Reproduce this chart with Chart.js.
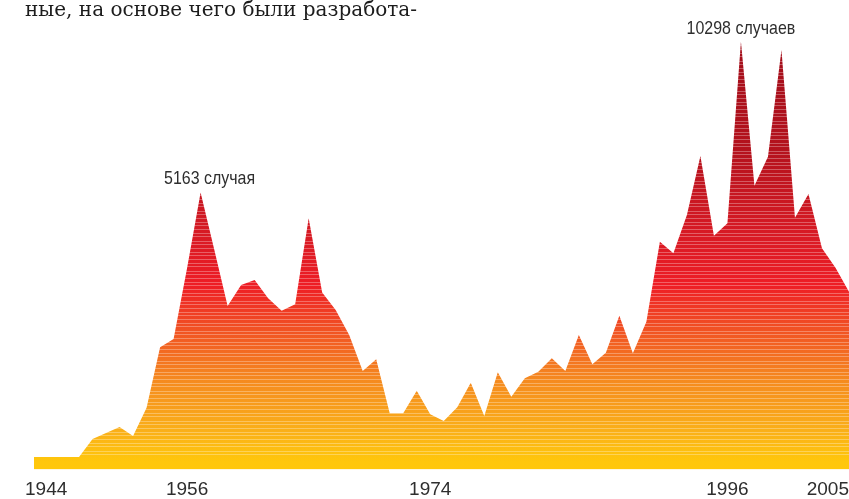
<!DOCTYPE html>
<html lang="ru">
<head>
<meta charset="utf-8">
<title>Случаи по годам, 1944–2005</title>
<script src="https://cdn.jsdelivr.net/npm/chart.js@4.4.1/dist/chart.umd.min.js"></script>
<style>
  html, body { margin: 0; padding: 0; background: #ffffff; overflow: hidden; }
  #wrap { width: 849px; height: 499px; }
  canvas { display: block; }
</style>
</head>
<body>
<div id="wrap"><canvas id="chart" width="849" height="499"></canvas></div>
<script>
// Years on the horizontal axis
const years = [
  1944, 1945, 1946, 1947, 1948, 1949, 1950, 1951, 1952, 1953,
  1954, 1955, 1956, 1957, 1958, 1959, 1960, 1961, 1962, 1963,
  1964, 1965, 1966, 1967, 1968, 1969, 1970, 1971, 1972, 1973,
  1974, 1975, 1976, 1977, 1978, 1979, 1980, 1981, 1982, 1983,
  1984, 1985, 1986, 1987, 1988, 1989, 1990, 1991, 1992, 1993,
  1994, 1995, 1996, 1997, 1998, 1999, 2000, 2001, 2002, 2003,
  2004, 2005
];

// Number of cases per year
const cases = [
  1540, 1540, 1540, 1540, 1540, 1672, 1718, 1766, 1695, 1929,
  2542, 2641, 3654, 5163, 3985, 3071, 3380, 3459, 3181, 3006,
  3095, 4586, 3269, 3015, 2689, 2281, 2407, 1880, 1880, 2085,
  1871, 1815, 1932, 2163, 1857, 2268, 2028, 2206, 2274, 2418,
  2281, 2689, 2352, 2480, 2938, 2474, 2858, 4121, 3908, 4656,
  6098, 4235, 4483, 10298, 5324, 6078, 9901, 4599, 5125, 3998,
  3659, 3279
];

// Years that get a label under the axis
const tickYears = [1944, 1956, 1974, 1996, 2005];

// Peaks called out above the area
const calloutYears = [1957, 1997];
const calloutTexts = ['5163 случая', '10298 случаев'];

// Cut-off line of body text above the chart
const headingText = 'ные, на основе чего были разработа-';

const sansFont = "'Liberation Sans Narrow', 'Liberation Sans', Arial, sans-serif";

// Vertical colour ramp of the area (canvas y in px, colour)
const rampStops = [
  [40,  '#a20d1a'],
  [150, '#b4121d'],
  [235, '#d81a24'],
  [285, '#ee1d25'],
  [330, '#f15223'],
  [380, '#f58a1f'],
  [430, '#faaf19'],
  [462, '#ffc70b'],
  [499, '#ffc80a']
];

// Builds the striped, graded fill as a pattern anchored to the canvas
let areaPattern = null;
function stripedFill(chart) {
  if (areaPattern) return areaPattern;
  const h = chart.height;
  const c = document.createElement('canvas');
  c.width = 8;
  c.height = h;
  const g = c.getContext('2d');
  const grad = g.createLinearGradient(0, 0, 0, h);
  rampStops.forEach(([y, col]) => grad.addColorStop(Math.min(1, y / h), col));
  g.fillStyle = grad;
  g.fillRect(0, 0, c.width, h);
  // thin light hairlines, slightly irregular spacing
  const gaps = [4, 3, 4, 4, 3, 5, 3, 4];
  g.fillStyle = 'rgba(255, 255, 255, 0.30)';
  let y = 38, i = 0;
  while (y < 458) {
    g.fillRect(0, y, c.width, 1);
    y += gaps[i % gaps.length];
    i++;
  }
  areaPattern = chart.ctx.createPattern(c, 'repeat');
  return areaPattern;
}

// Draws the peak call-outs above their points, in a narrowed face
const calloutPlugin = {
  id: 'peakCallouts',
  afterDatasetsDraw(chart, args, opts) {
    const { ctx, scales } = chart;
    calloutYears.forEach((yr, k) => {
      const idx = years.indexOf(yr);
      const x = scales.x.getPixelForValue(idx) + (opts.shift[k] || 0);
      const y = scales.y.getPixelForValue(cases[idx]) - opts.gap;
      ctx.save();
      ctx.font = opts.font;
      ctx.fillStyle = opts.color;
      ctx.textAlign = 'center';
      ctx.textBaseline = 'alphabetic';
      ctx.translate(x, y);
      ctx.scale(opts.squeeze, 1);
      ctx.fillText(calloutTexts[k], 0, 0);
      ctx.restore();
    });
  }
};

new Chart(document.getElementById('chart'), {
  type: 'line',
  data: {
    labels: years.map(String),
    datasets: [{
      data: cases,
      fill: 'start',
      backgroundColor: (ctx) => stripedFill(ctx.chart),
      borderWidth: 0,
      borderColor: 'rgba(0,0,0,0)',
      pointRadius: 0,
      pointHoverRadius: 0,
      tension: 0,
      clip: { left: -9, top: false, right: 0, bottom: 0 }
    }]
  },
  options: {
    responsive: false,
    animation: false,
    devicePixelRatio: 1,
    events: [],
    layout: { padding: { left: 25, right: 0, top: 0, bottom: 0 } },
    plugins: {
      legend: { display: false },
      tooltip: { enabled: false },
      title: {
        display: true,
        text: headingText,
        align: 'start',
        color: '#1c1c1c',
        font: { family: "'DejaVu Serif', 'Liberation Serif', serif", size: 20, weight: 'normal', lineHeight: 1.2 },
        padding: { top: -0.9, bottom: 0 }
      },
      peakCallouts: {
        font: "19px " + sansFont,
        color: '#2e2e2e',
        gap: 8,
        squeeze: 0.84,
        shift: [9, 0]
      }
    },
    scales: {
      x: {
        type: 'category',
        offset: false,
        grid: { display: false, drawTicks: false },
        border: { display: false },
        ticks: {
          autoSkip: false,
          maxRotation: 0,
          minRotation: 0,
          align: 'inner',
          padding: 10.5,
          color: '#2e2e2e',
          font: { family: sansFont, size: 19, lineHeight: 1 },
          callback: (value, index) => tickYears.includes(years[index]) ? String(years[index]) : null
        },
        afterFit: (scale) => {
          // labels sit inside the plot width; keep the axis band fixed
          scale.paddingLeft = 0;
          scale.paddingRight = 0;
          scale.height = 29.5;
        }
      },
      y: {
        type: 'logarithmic',
        display: false,
        min: 1454,
        max: 11203
      }
    }
  },
  plugins: [calloutPlugin]
});
</script>
</body>
</html>
